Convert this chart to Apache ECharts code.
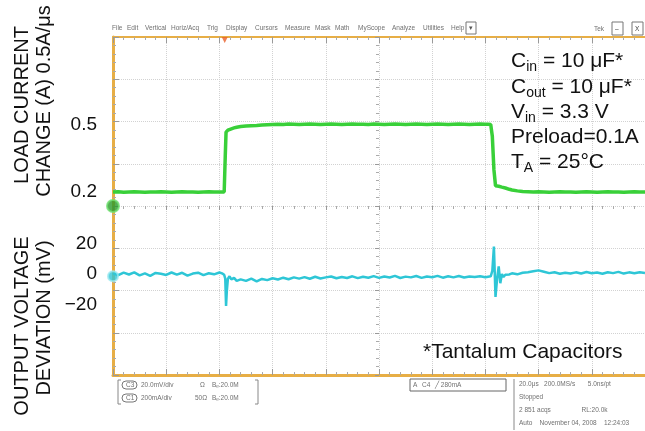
<!DOCTYPE html>
<html>
<head>
<meta charset="utf-8">
<script src="https://cdn.jsdelivr.net/npm/echarts@6/dist/echarts.min.js"></script>
<style>
  html, body { margin: 0; padding: 0; background: #fff; }
  #chart { width: 645px; height: 431px; }
</style>
</head>
<body>
<div id="chart"></div>
<script>
  // sample times, µs from the left edge of the scope screen (20 µs/div)
  const timeUs = [
    0, 2, 4, 6, 8, 10, 12, 14, 16, 18, 20, 22, 24, 26, 28, 30, 32, 34, 36, 38, 40,
    41, 41.8, 42.2, 42.5, 42.8, 43.2, 43.8, 44.5, 45.5, 46.5, 48,
    50, 52, 54, 56, 58, 60, 62, 64, 66, 68, 70, 72, 74, 76, 78, 80, 82, 84, 86, 88,
    90, 92, 94, 96, 98, 100, 102, 104, 106, 108, 110, 112, 114, 116, 118, 120,
    122, 124, 126, 128, 130, 132, 134, 136, 138, 140,
    141, 142, 142.6, 143.2, 143.8, 144.4, 145, 145.6, 146.2, 146.8, 147.5, 148.2, 149,
    150, 152, 154, 156, 158, 160, 162, 164, 166, 168, 170, 172, 174, 176, 178, 180,
    182, 184, 186, 188, 190, 192, 194, 196, 198, 200
  ];

  // load current (A), green trace
  const loadCurrent = [
    0.2, 0.201, 0.199, 0.2, 0.201, 0.2, 0.199, 0.2, 0.2, 0.201, 0.2, 0.199, 0.2, 0.201, 0.2, 0.2, 0.199, 0.2, 0.201, 0.2, 0.2,
    0.2, 0.2, 0.36, 0.468, 0.474, 0.477, 0.48, 0.483, 0.487, 0.49, 0.493,
    0.495, 0.497, 0.498, 0.5, 0.501, 0.502,
    0.503, 0.502, 0.504, 0.503, 0.502, 0.503, 0.504, 0.503, 0.502, 0.503,
    0.504, 0.503, 0.502, 0.503, 0.504, 0.503, 0.503, 0.502, 0.504, 0.503,
    0.502, 0.503, 0.504, 0.503, 0.502, 0.503, 0.504, 0.503, 0.502, 0.503,
    0.504, 0.503, 0.502, 0.503, 0.504, 0.503, 0.502, 0.503, 0.504, 0.503,
    0.503, 0.502, 0.45, 0.3, 0.228, 0.227, 0.226, 0.224, 0.222, 0.22, 0.218, 0.215, 0.212,
    0.209, 0.205, 0.202, 0.201, 0.2,
    0.201, 0.2, 0.199, 0.2, 0.201, 0.2, 0.2, 0.199, 0.2, 0.201, 0.2, 0.199, 0.2, 0.201, 0.2, 0.2, 0.199, 0.2, 0.201, 0.2, 0.2
  ];

  // output voltage deviation (mV), cyan trace
  const outputDeviation = [
    0.5, -0.8, 0.9, -0.3, 1.1, -0.9, 0.4, -1.2, 0.7, 0.2, -0.6, 1.0, -0.4, 0.8, -1.0, 0.3, 0.9, -0.7, 0.5, -0.2, 1.0,
    0.4, -0.5, -3, -21, -11, -3, -1.5, -3.5, -2.5, -4.5, -3.5,
    -4.5, -3.0, -4.8, -3.2, -4.0, -2.8, -3.6, -2.4, -3.4, -2.2,
    -3.0, -2.0, -3.1, -1.8, -2.9, -2.2, -1.6, -2.8, -1.9, -2.6,
    -1.5, -2.7, -1.8, -2.4, -1.4, -2.5, -1.6, -2.3, -1.2, -2.6,
    -1.7, -2.2, -1.3, -2.5, -1.6, -2.1, -1.2, -2.4, -1.5, -2.2,
    -1.3, -2.3, -1.6, -2.0, -1.4, -2.1,
    -1.8, -1.5, 2, 18, -15, -3, 5, -6, 0, -2, -0.5, -1.5, -0.3,
    0.5, -0.2, 0.8, 1.2, 1.8, 2.4, 1.5, 0.6, 1.2, 0.2, 0.9, 0.3, 1.1, 0.4, 1.3, 0.5,
    1.0, 0.2, 1.2, 0.6, 1.4, 0.3, 1.1, 0.5, 1.2, 0.7
  ];

  const currentTicks = [0.2, 0.5];
  const voltageTicks = [-20, 0, 20];

  // channel ground markers and trigger marker
  const ch1Marker = [0, 0.137];
  const ch3Marker = [0, -1.5];
  const trigMarker = [42, 4];

  const FONT = '"Liberation Sans", Arial, Helvetica, sans-serif';
  const ORANGE = '#e7ae45';
  const GRID = '#d2d2d2';

  const chart = echarts.init(document.getElementById('chart'), null, { renderer: 'canvas' });

  const zip = (ys) => timeUs.map((t, i) => [t, ys[i]]);

  const big = { fontSize: 21, lineHeight: 22, fontFamily: FONT, fill: '#111', verticalAlign: 'middle' };
  const sub = { fontSize: 14, lineHeight: 14, fontFamily: FONT, fill: '#111', padding: [12, 0, 0, 0] };

  function note(y, str) {
    return {
      type: 'text', x: 511, y: y, z: 50,
      style: {
        text: str, rich: { m: big, s: sub },
        align: 'left', verticalAlign: 'middle', textAlign: 'left', textVerticalAlign: 'middle'
      }
    };
  }

  function small(x, y, str, extra) {
    return {
      type: 'text', x: x, y: y,
      style: Object.assign({
        text: str, fill: '#707070', font: '6.5px ' + FONT,
        align: 'left', verticalAlign: 'middle', textAlign: 'left', textVerticalAlign: 'middle'
      }, extra || {})
    };
  }

  function vtitle(x, y, str) {
    return {
      type: 'text', x: x, y: y, rotation: Math.PI / 2,
      style: {
        text: str, fill: '#111', font: '20px ' + FONT,
        align: 'center', verticalAlign: 'middle', textAlign: 'center', textVerticalAlign: 'middle'
      }
    };
  }

  const menu = [
    [112, 'File'], [127, 'Edit'], [145, 'Vertical'], [171, 'Horiz/Acq'], [207, 'Trig'],
    [226, 'Display'], [255, 'Cursors'], [285, 'Measure'], [315, 'Mask'], [335, 'Math'],
    [358, 'MyScope'], [392, 'Analyze'], [423, 'Utilities'], [451, 'Help']
  ];

  const option = {
    backgroundColor: '#fff',
    animation: false,
    grid: { left: 113, top: 37, width: 536, height: 338 },
    xAxis: [
      {
        type: 'value', min: 0, max: 200, interval: 20, position: 'bottom',
        axisLine: { onZero: false, lineStyle: { color: ORANGE, width: 3 } },
        axisTick: { show: true, inside: true, length: 6, lineStyle: { color: '#9a9a9a' } },
        minorTick: { show: true, splitNumber: 5, length: 3, lineStyle: { color: '#aaa' } },
        axisLabel: { show: false },
        splitLine: { show: true, lineStyle: { color: GRID, type: 'dotted', width: 1 } }
      },
      {
        type: 'value', min: 0, max: 200, interval: 20, position: 'top',
        axisLine: { onZero: false, lineStyle: { color: ORANGE, width: 2 } },
        axisTick: { show: true, inside: true, length: 6, lineStyle: { color: '#9a9a9a' } },
        minorTick: { show: true, splitNumber: 5, length: 3, lineStyle: { color: '#aaa' } },
        axisLabel: { show: false },
        splitLine: { show: false }
      },
      {
        // ticks on the horizontal centre line
        type: 'value', min: 0, max: 200, interval: 20, position: 'bottom',
        axisLine: { onZero: true, onZeroAxisIndex: 0, lineStyle: { opacity: 0 } },
        axisTick: { show: true, length: 4, lineStyle: { color: '#999' } },
        minorTick: { show: true, splitNumber: 5, length: 3, lineStyle: { color: '#aaa' } },
        axisLabel: { show: false },
        splitLine: { show: false }
      },
      {
        // division axis used only to place the vertical centre line
        type: 'value', min: -5, max: 5, show: false,
        axisLine: { onZero: false }
      }
    ],
    yAxis: [
      {
        // screen divisions
        type: 'value', min: -4, max: 4, interval: 1, position: 'left',
        axisLine: { onZero: false, lineStyle: { color: ORANGE, width: 3 } },
        axisTick: { show: true, inside: true, length: 6, lineStyle: { color: '#9a9a9a' } },
        minorTick: { show: true, splitNumber: 5, length: 3, lineStyle: { color: '#aaa' } },
        axisLabel: { show: false },
        splitLine: { show: true, lineStyle: { color: GRID, type: 'dotted', width: 1 } }
      },
      {
        // load current (A)
        type: 'value', min: -0.6194, max: 0.894, position: 'left',
        axisLine: { show: false, onZero: false }, axisTick: { show: false },
        splitLine: { show: false },
        axisLabel: {
          customValues: currentTicks, margin: 16, color: '#111',
          fontSize: 19, fontFamily: FONT, padding: [5, 0, 0, 0],
          formatter: (v) => v.toFixed(1)
        }
      },
      {
        // output voltage deviation (mV)
        type: 'value', min: -66.2, max: 155.4, position: 'left',
        axisLine: { show: false, onZero: false }, axisTick: { show: false },
        splitLine: { show: false },
        axisLabel: {
          customValues: voltageTicks, margin: 16, color: '#111',
          fontSize: 19, fontFamily: FONT, padding: [2, 0, 0, 0],
          formatter: (v) => (v < 0 ? '\u2212' + Math.abs(v) : String(v))
        }
      },
      {
        // ticks on the vertical centre line
        type: 'value', min: -4, max: 4, interval: 1, position: 'left',
        axisLine: { onZero: true, onZeroAxisIndex: 3, lineStyle: { opacity: 0 } },
        axisTick: { show: true, length: 4, lineStyle: { color: '#999' } },
        minorTick: { show: true, splitNumber: 5, length: 3, lineStyle: { color: '#aaa' } },
        axisLabel: { show: false },
        splitLine: { show: false }
      }
    ],
    series: [
      {
        name: 'Load current', type: 'line', xAxisIndex: 0, yAxisIndex: 1,
        data: zip(loadCurrent), showSymbol: false, symbol: 'none',
        lineStyle: { color: '#39d039', width: 3.5 }, z: 5
      },
      {
        name: 'Output deviation', type: 'line', xAxisIndex: 0, yAxisIndex: 2,
        data: zip(outputDeviation), showSymbol: false, symbol: 'none',
        lineStyle: { color: '#2ec6d6', width: 2.5 }, z: 5
      },
      {
        type: 'scatter', xAxisIndex: 0, yAxisIndex: 1, clip: false, z: 8,
        data: [ch1Marker], symbolSize: 12,
        itemStyle: { color: '#2a9a2a', borderColor: '#6fe06f', borderWidth: 2 }
      },
      {
        type: 'scatter', xAxisIndex: 0, yAxisIndex: 2, clip: false, z: 8,
        data: [ch3Marker], symbolSize: 10,
        itemStyle: { color: '#2ec6d6', borderColor: '#9be8f0', borderWidth: 2 }
      },
      {
        type: 'scatter', xAxisIndex: 0, yAxisIndex: 0, clip: false, z: 8,
        data: [trigMarker], symbol: 'triangle', symbolRotate: 180, symbolSize: 6,
        symbolOffset: [0, 3], itemStyle: { color: '#e8602a' }
      }
    ],
    graphic: [
      vtitle(22, 105, 'LOAD CURRENT'),
      vtitle(44, 101, 'CHANGE (A) 0.5A/\u03bcs'),
      vtitle(22, 326, 'OUTPUT VOLTAGE'),
      vtitle(44, 318, 'DEVIATION (mV)'),

      note(61, '{m|C}{s|in}{m| = 10 \u03bcF*}'),
      note(87, '{m|C}{s|out}{m| = 10 \u03bcF*}'),
      note(112, '{m|V}{s|in}{m| = 3.3 V}'),
      note(137, '{m|Preload=0.1A}'),
      note(162, '{m|T}{s|A}{m| = 25\u00b0C}'),
      {
        type: 'text', x: 423, y: 352, z: 50,
        style: {
          text: '*Tantalum Capacitors', fill: '#111', font: '21px ' + FONT,
          align: 'left', verticalAlign: 'middle', textAlign: 'left', textVerticalAlign: 'middle'
        }
      },

      // scope menu bar
      ...menu.map((m) => small(m[0], 28, m[1])),
      { type: 'rect', shape: { x: 466, y: 22, width: 10, height: 12 }, style: { fill: '#fff', stroke: '#777', lineWidth: 1 } },
      small(468.5, 28, '\u25be', { fill: '#555' }),
      small(594, 29, 'Tek'),
      { type: 'rect', shape: { x: 612, y: 22, width: 11, height: 13 }, style: { fill: '#fff', stroke: '#777', lineWidth: 1 } },
      small(615, 29, '\u2013', { fill: '#444' }),
      { type: 'rect', shape: { x: 632, y: 22, width: 11, height: 13 }, style: { fill: '#fff', stroke: '#777', lineWidth: 1 } },
      small(635, 29, 'X', { fill: '#444' }),

      // scope status area
      { type: 'polyline', shape: { points: [[121, 380], [118, 380], [118, 404], [121, 404]] }, style: { fill: null, stroke: '#888', lineWidth: 1 } },
      { type: 'polyline', shape: { points: [[255, 380], [258, 380], [258, 404], [255, 404]] }, style: { fill: null, stroke: '#888', lineWidth: 1 } },
      { type: 'rect', shape: { x: 122, y: 381, width: 15, height: 8, r: 4 }, style: { fill: '#fff', stroke: '#777', lineWidth: 1 } },
      { type: 'rect', shape: { x: 122, y: 394, width: 15, height: 8, r: 4 }, style: { fill: '#fff', stroke: '#777', lineWidth: 1 } },
      small(126, 385, 'C3'), small(141, 385, '20.0mV/div'), small(200, 385, '\u03a9'), small(212, 385, 'B\u1d68:20.0M'),
      small(126, 398, 'C1'), small(141, 398, '200mA/div'), small(195, 398, '50\u03a9'), small(212, 398, 'B\u1d68:20.0M'),
      { type: 'rect', shape: { x: 410, y: 379, width: 96, height: 12 }, style: { fill: '#fff', stroke: '#666', lineWidth: 1 } },
      small(413, 385, 'A'), small(422, 385, 'C4'), small(435, 385, '\u2571 280mA'),
      { type: 'line', shape: { x1: 514, y1: 379, x2: 514, y2: 430 }, style: { stroke: '#888', lineWidth: 1 } },
      small(519, 384, '20.0\u03bcs   200.0MS/s       5.0ns/pt'),
      small(519, 397, 'Stopped'),
      small(519, 410, '2 851 acqs                 RL:20.0k'),
      small(519, 423, 'Auto    November 04, 2008    12:24:03')
    ]
  };

  chart.setOption(option);
</script>
</body>
</html>
